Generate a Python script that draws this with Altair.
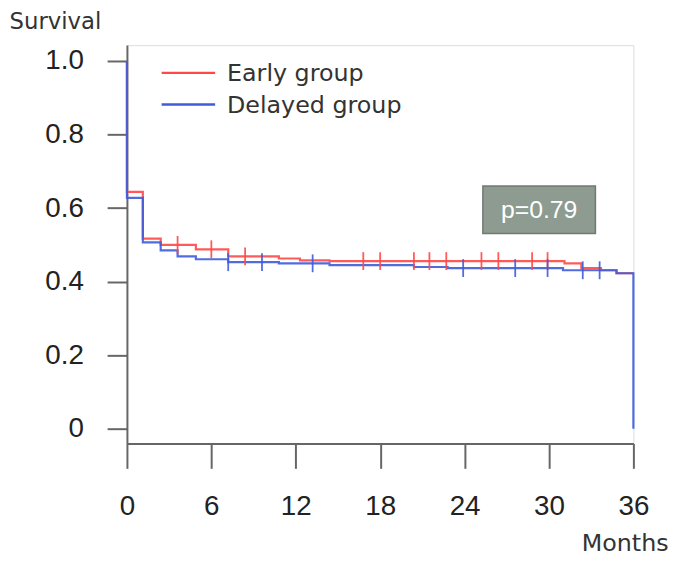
import altair as alt
import pandas as pd

# ---- data ----
groups = ["Early group", "Delayed group"]
colors = ["#ff4848", "#3d5cdc"]

early_t = [0, 0, 1.13, 2.4, 4.9, 7.2, 10.8, 12.3, 14.4, 31.1, 32.3, 33.7, 34.8, 36]
early_s = [1.0, 0.644, 0.517, 0.500, 0.488, 0.469, 0.463, 0.458, 0.456, 0.450, 0.437, 0.431, 0.423, 0.423]

delayed_t = [0, 0, 1.13, 2.4, 3.6, 4.9, 7.2, 10.8, 14.4, 20.4, 22.8, 31.0, 34.8, 36, 36]
delayed_s = [1.0, 0.628, 0.507, 0.485, 0.469, 0.461, 0.453, 0.450, 0.445, 0.440, 0.437, 0.431, 0.423, 0.423, 0.0]

early_cens_t = [3.6, 6.0, 8.4, 16.8, 18.0, 20.4, 21.5, 22.7, 25.2, 26.4, 28.8, 29.9]
early_cens_s = [0.500, 0.488, 0.469, 0.456, 0.456, 0.456, 0.456, 0.456, 0.456, 0.456, 0.456, 0.456]

delayed_cens_t = [7.2, 9.6, 13.2, 23.9, 27.6, 29.9, 32.4, 33.6]
delayed_cens_s = [0.453, 0.453, 0.450, 0.437, 0.437, 0.437, 0.431, 0.431]

x_ticks = [0, 6, 12, 18, 24, 30, 36]
y_ticks = [0, 0.2, 0.4, 0.6, 0.8, 1.0]

p_label = ["p=0.79"]
p_box_x = [25.3, 33.3]
p_box_y = [0.531, 0.660]

FONT = "Liberation Sans"
WIDE = "DejaVu Sans"

# ---- tables ----
rows = []
for g, ts, ss in [(groups[0], early_t, early_s), (groups[1], delayed_t, delayed_s)]:
    for i, (t, s) in enumerate(zip(ts, ss)):
        rows.append({"group": g, "t": t, "s": s, "i": i})
curves = pd.DataFrame(rows)

cens_rows = []
for g, ts, ss in [(groups[0], early_cens_t, early_cens_s), (groups[1], delayed_cens_t, delayed_cens_s)]:
    for t, s in zip(ts, ss):
        cens_rows.append({"group": g, "t": t, "s": s})
cens = pd.DataFrame(cens_rows)

pbox = pd.DataFrame({"x": [p_box_x[0]], "x2": [p_box_x[1]], "y": [p_box_y[0]], "y2": [p_box_y[1]],
                     "label": p_label, "xm": [(p_box_x[0] + p_box_x[1]) / 2], "ym": [(p_box_y[0] + p_box_y[1]) / 2]})

xscale = alt.Scale(domain=[0, 36], nice=False, zero=False)
yscale = alt.Scale(domain=[-0.04, 1.043], nice=False, zero=False)
cscale = alt.Scale(domain=groups, range=colors)

xax = alt.Axis(values=x_ticks, title="Months", grid=False, tickSize=25, labelPadding=25,
               labelFontSize=28, titleFontSize=24, titleFontWeight="normal",
               titleAnchor="start", titleAlign="right", titleX=546, titleY=108,
               titleBaseline="alphabetic", domainColor="#666", domainWidth=2,
               tickColor="#666", tickWidth=2, labelColor="#222", titleColor="#333",
               labelFont=FONT, titleFont=WIDE, labelFlush=False)
yax = alt.Axis(values=y_ticks, title="Survival", grid=False, tickSize=20, labelPadding=24,
               labelFontSize=28, titleFontSize=23, titleFontWeight="normal", titleAngle=0,
               titleAlign="left", titleX=-119, titleY=-17, titleBaseline="alphabetic",
               labelExpr="datum.value == 0 ? '0' : format(datum.value, '.1f')",
               domainColor="#666", domainWidth=2, tickColor="#666", tickWidth=2,
               labelColor="#222", titleColor="#333", labelFont=FONT, titleFont=WIDE)

box = alt.Chart(pbox).mark_rect(fill="#8d9b91", stroke="#6f7b72", strokeWidth=1.5).encode(
    x=alt.X("x:Q", scale=xscale, axis=xax), x2="x2", y=alt.Y("y:Q", scale=yscale, axis=yax), y2="y2")
ptext = alt.Chart(pbox).mark_text(color="white", fontSize=25, font=FONT).encode(
    x=alt.X("xm:Q", scale=xscale), y=alt.Y("ym:Q", scale=yscale), text="label:N")

lines = alt.Chart(curves).mark_line(interpolate="step-after", strokeWidth=2.2, opacity=0.9).encode(
    x=alt.X("t:Q", scale=xscale),
    y=alt.Y("s:Q", scale=yscale),
    color=alt.Color("group:N", scale=cscale, legend=None),
    order="i:Q",
)
ticks = alt.Chart(cens).mark_tick(orient="vertical", size=18, thickness=1.8, opacity=0.9).encode(
    x=alt.X("t:Q", scale=xscale),
    y=alt.Y("s:Q", scale=yscale),
    color=alt.Color("group:N", scale=cscale, legend=None),
)

legend_layers = []
for k, (g, c) in enumerate(zip(groups, colors)):
    d = pd.DataFrame({"label": [g]})
    yy = 28 + 32 * k
    legend_layers.append(alt.Chart(d).mark_rule(color=c, strokeWidth=2.5).encode(
        x=alt.value(35), x2=alt.value(89), y=alt.value(yy)))
    legend_layers.append(alt.Chart(d).mark_text(align="left", baseline="middle", fontSize=24,
                                                font=WIDE, color="#333").encode(
        x=alt.value(101), y=alt.value(yy + 1), text="label:N"))

chart = alt.layer(box, ptext, lines, ticks, *legend_layers).properties(
    width=511, height=402,
    autosize=alt.AutoSizeParams(type="none"),
    padding={"left": 120, "top": 35, "right": 44, "bottom": 112},
).configure_view(stroke="#888", strokeWidth=2).configure(background="white")

chart.save("out.html", embed_options={"renderer": "svg", "actions": False})
